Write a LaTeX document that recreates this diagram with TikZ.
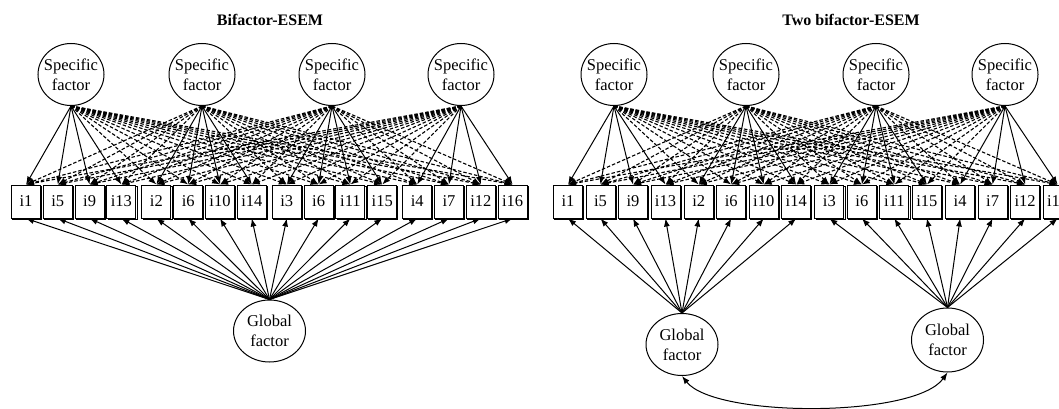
\documentclass[tikz,border=0pt]{standalone}
\usepackage{fontspec}
\setmainfont{Liberation Serif}
\usetikzlibrary{arrows.meta,shapes.geometric,shadows}
\begin{document}
\begin{tikzpicture}[x=1pt,y=-1pt,
  font=\fontsize{16.5}{20}\selectfont,
  latent/.style={draw,ellipse,line width=1pt,inner sep=-10pt,minimum width=66pt,minimum height=62pt,align=center,fill=white},
  globf/.style={latent,minimum width=72pt,minimum height=62pt},
  item/.style={draw,rectangle,line width=1pt,inner sep=0pt,minimum width=29pt,minimum height=33pt,fill=white,
    copy shadow={shadow xshift=1.2pt,shadow yshift=-1.2pt}},
  load/.style={-{Latex[length=8pt,width=6pt]},line width=1pt},
  cross/.style={load,line width=1.1pt,dash pattern=on 3.5pt off 2pt},
  ttl/.style={font=\fontsize{16}{19}\selectfont\bfseries}]
\useasboundingbox (0,0) rectangle (1059,409);

% titles
\node[ttl] (t1) at (270,20) {Bifactor-ESEM};
\node[ttl] (t2) at (851,20) {Two bifactor-ESEM};

% items
\foreach \lab [count=\n from 1] in {i1,i5,i9,i13,i2,i6,i10,i14,i3,i6,i11,i15,i4,i7,i12,i16} {
  \pgfmathsetmacro\xl{26+130.4*floor((\n-1)/4)+31.8*mod(\n-1,4)}
  \pgfmathsetmacro\xr{568+130.7*floor((\n-1)/4)+32.5*mod(\n-1,4)}
  \node[item] (L\n) at (\xl,201.5) {\lab};
  \node[item] (R\n) at (\xr,201.5) {\lab};
}

% specific factors
\foreach \s/\xl/\xr in {1/71/614,2/202/746,3/332/876,4/461/1005} {
  \node[latent] (LS\s) at (\xl,74.5) {Specific\\factor};
  \node[latent] (RS\s) at (\xr,74.5) {Specific\\factor};
}

% global factors
\node[globf] (LG) at (269.5,331) {Global\\factor};
\node[globf] (RG1) at (682,344.5) {Global\\factor};
\node[globf,minimum height=64pt] (RG2) at (947.5,340) {Global\\factor};

% cross loadings (dashed)
\foreach \s in {1,...,4} {
  \foreach \j in {1,...,16} {
    \pgfmathtruncatemacro\grp{floor((\j-1)/4)+1}
    \ifnum\grp=\s\relax\else
      \draw[cross] (LS\s.south) -- (L\j.north);
      \draw[cross] (RS\s.south) -- (R\j.north);
    \fi
  }
}
% target loadings (solid)
\foreach \s in {1,...,4} {
  \foreach \j in {1,...,16} {
    \pgfmathtruncatemacro\grp{floor((\j-1)/4)+1}
    \ifnum\grp=\s\relax
      \draw[load] (LS\s.south) -- (L\j.north);
      \draw[load] (RS\s.south) -- (R\j.north);
    \fi
  }
}

% global loadings
\foreach \j in {1,...,16} {
  \draw[load] (LG.north) -- (L\j.south);
}
\foreach \j in {1,...,8} {
  \draw[load] (RG1.north) -- (R\j.south);
}
\foreach \j in {9,...,16} {
  \draw[load] (RG2.north) -- (R\j.south);
}

% correlation
\draw[{Latex[length=8pt,width=6pt]}-{Latex[length=8pt,width=6pt]},line width=1pt]
  (RG1.south) .. controls (715,418) and (915,418) .. (RG2.south);
\end{tikzpicture}
\end{document}
